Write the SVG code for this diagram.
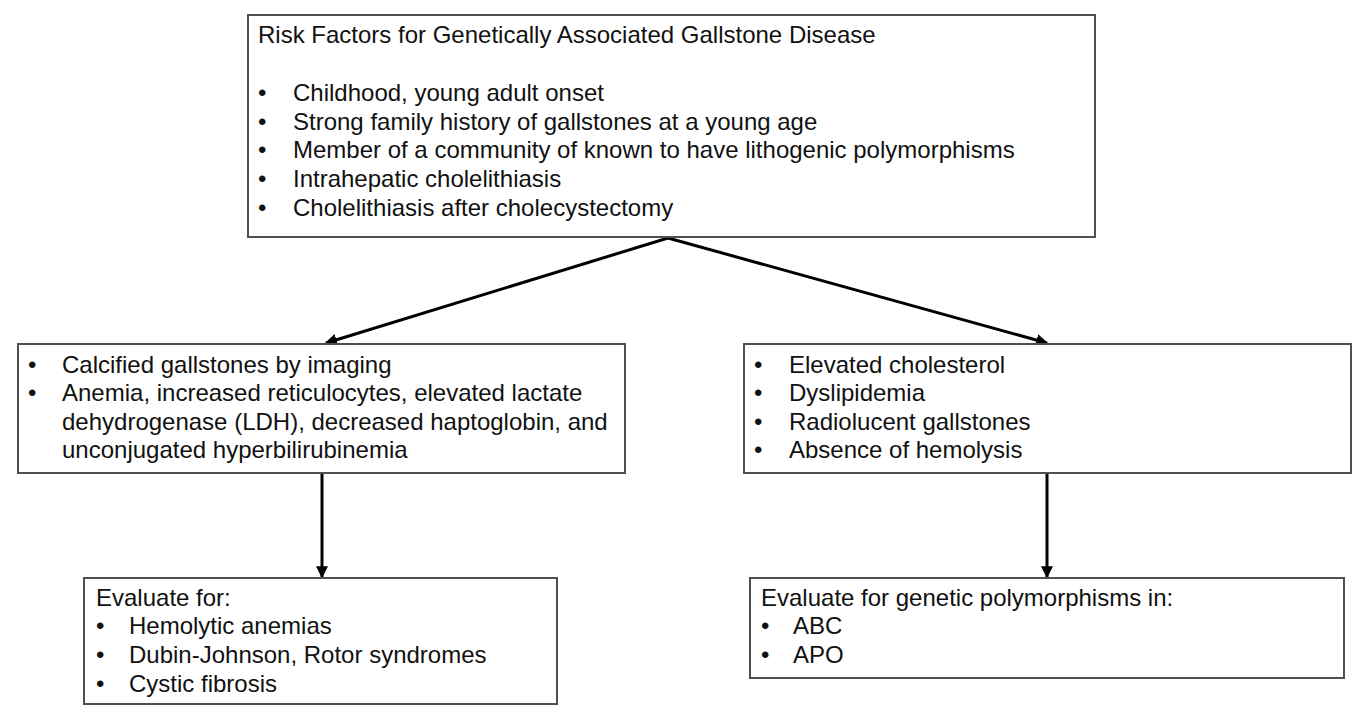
<svg xmlns="http://www.w3.org/2000/svg" width="1367" height="719" viewBox="0 0 1367 719">
<style>
.box{fill:#fff;stroke:#505050;stroke-width:2}
text{font-family:"Liberation Sans",Arial,sans-serif;font-size:24px;fill:#111}
.conn{stroke:#000;stroke-width:3;fill:none}
</style>
<defs>
<marker id="ah" viewBox="0 0 10 10" refX="9" refY="5" markerWidth="4" markerHeight="4" orient="auto" markerUnits="strokeWidth">
<path d="M0,0 L10,5 L0,10 z" fill="#000"/>
</marker>
</defs>
<rect width="1367" height="719" fill="#fff"/>
<g id="connectors">
<line class="conn" x1="668" y1="238" x2="326" y2="343" marker-end="url(#ah)"/>
<line class="conn" x1="668" y1="238" x2="1047" y2="343" marker-end="url(#ah)"/>
<line class="conn" x1="322" y1="473" x2="322" y2="577" marker-end="url(#ah)"/>
<line class="conn" x1="1047" y1="473" x2="1047" y2="577" marker-end="url(#ah)"/>
</g>
<g id="risk-factors">
<rect class="box" x="248" y="15" width="847" height="222"/>
<text x="258" y="43">Risk Factors for Genetically Associated Gallstone Disease</text>
<text x="258" y="101">•</text><text x="293" y="101">Childhood,  young adult onset</text>
<text x="258" y="130">•</text><text x="293" y="130">Strong family history of gallstones at a young age</text>
<text x="258" y="158">•</text><text x="293" y="158">Member  of a community  of known to have lithogenic polymorphisms</text>
<text x="258" y="187">•</text><text x="293" y="187">Intrahepatic cholelithiasis</text>
<text x="258" y="216">•</text><text x="293" y="216">Cholelithiasis after cholecystectomy</text>
</g>
<g id="hemolytic-signs">
<rect class="box" x="18" y="344" width="607" height="129"/>
<text x="28" y="373">•</text><text x="62" y="373">Calcified gallstones by imaging</text>
<text x="28" y="401">•</text><text x="62" y="401">Anemia,  increased reticulocytes, elevated lactate</text>
<text x="62" y="430">dehydrogenase  (LDH), decreased haptoglobin,  and</text>
<text x="62" y="458">unconjugated  hyperbilirubinemia</text>
</g>
<g id="cholesterol-signs">
<rect class="box" x="744" y="344" width="607" height="129"/>
<text x="754" y="373">•</text><text x="789" y="373">Elevated cholesterol</text>
<text x="754" y="401">•</text><text x="789" y="401">Dyslipidemia</text>
<text x="754" y="430">•</text><text x="789" y="430">Radiolucent gallstones</text>
<text x="754" y="458">•</text><text x="789" y="458">Absence  of hemolysis</text>
</g>
<g id="evaluate-hemolytic">
<rect class="box" x="84" y="578" width="473" height="126"/>
<text x="96" y="606">Evaluate for:</text>
<text x="96" y="634">•</text><text x="129" y="634">Hemolytic  anemias</text>
<text x="96" y="663">•</text><text x="129" y="663">Dubin-Johnson,  Rotor syndromes</text>
<text x="96" y="692">•</text><text x="129" y="692">Cystic fibrosis</text>
</g>
<g id="evaluate-genetic">
<rect class="box" x="750" y="578" width="594" height="100"/>
<text x="761" y="606">Evaluate for genetic polymorphisms  in:</text>
<text x="761" y="634">•</text><text x="793" y="634">ABC</text>
<text x="761" y="663">•</text><text x="793" y="663">APO</text>
</g>
</svg>
